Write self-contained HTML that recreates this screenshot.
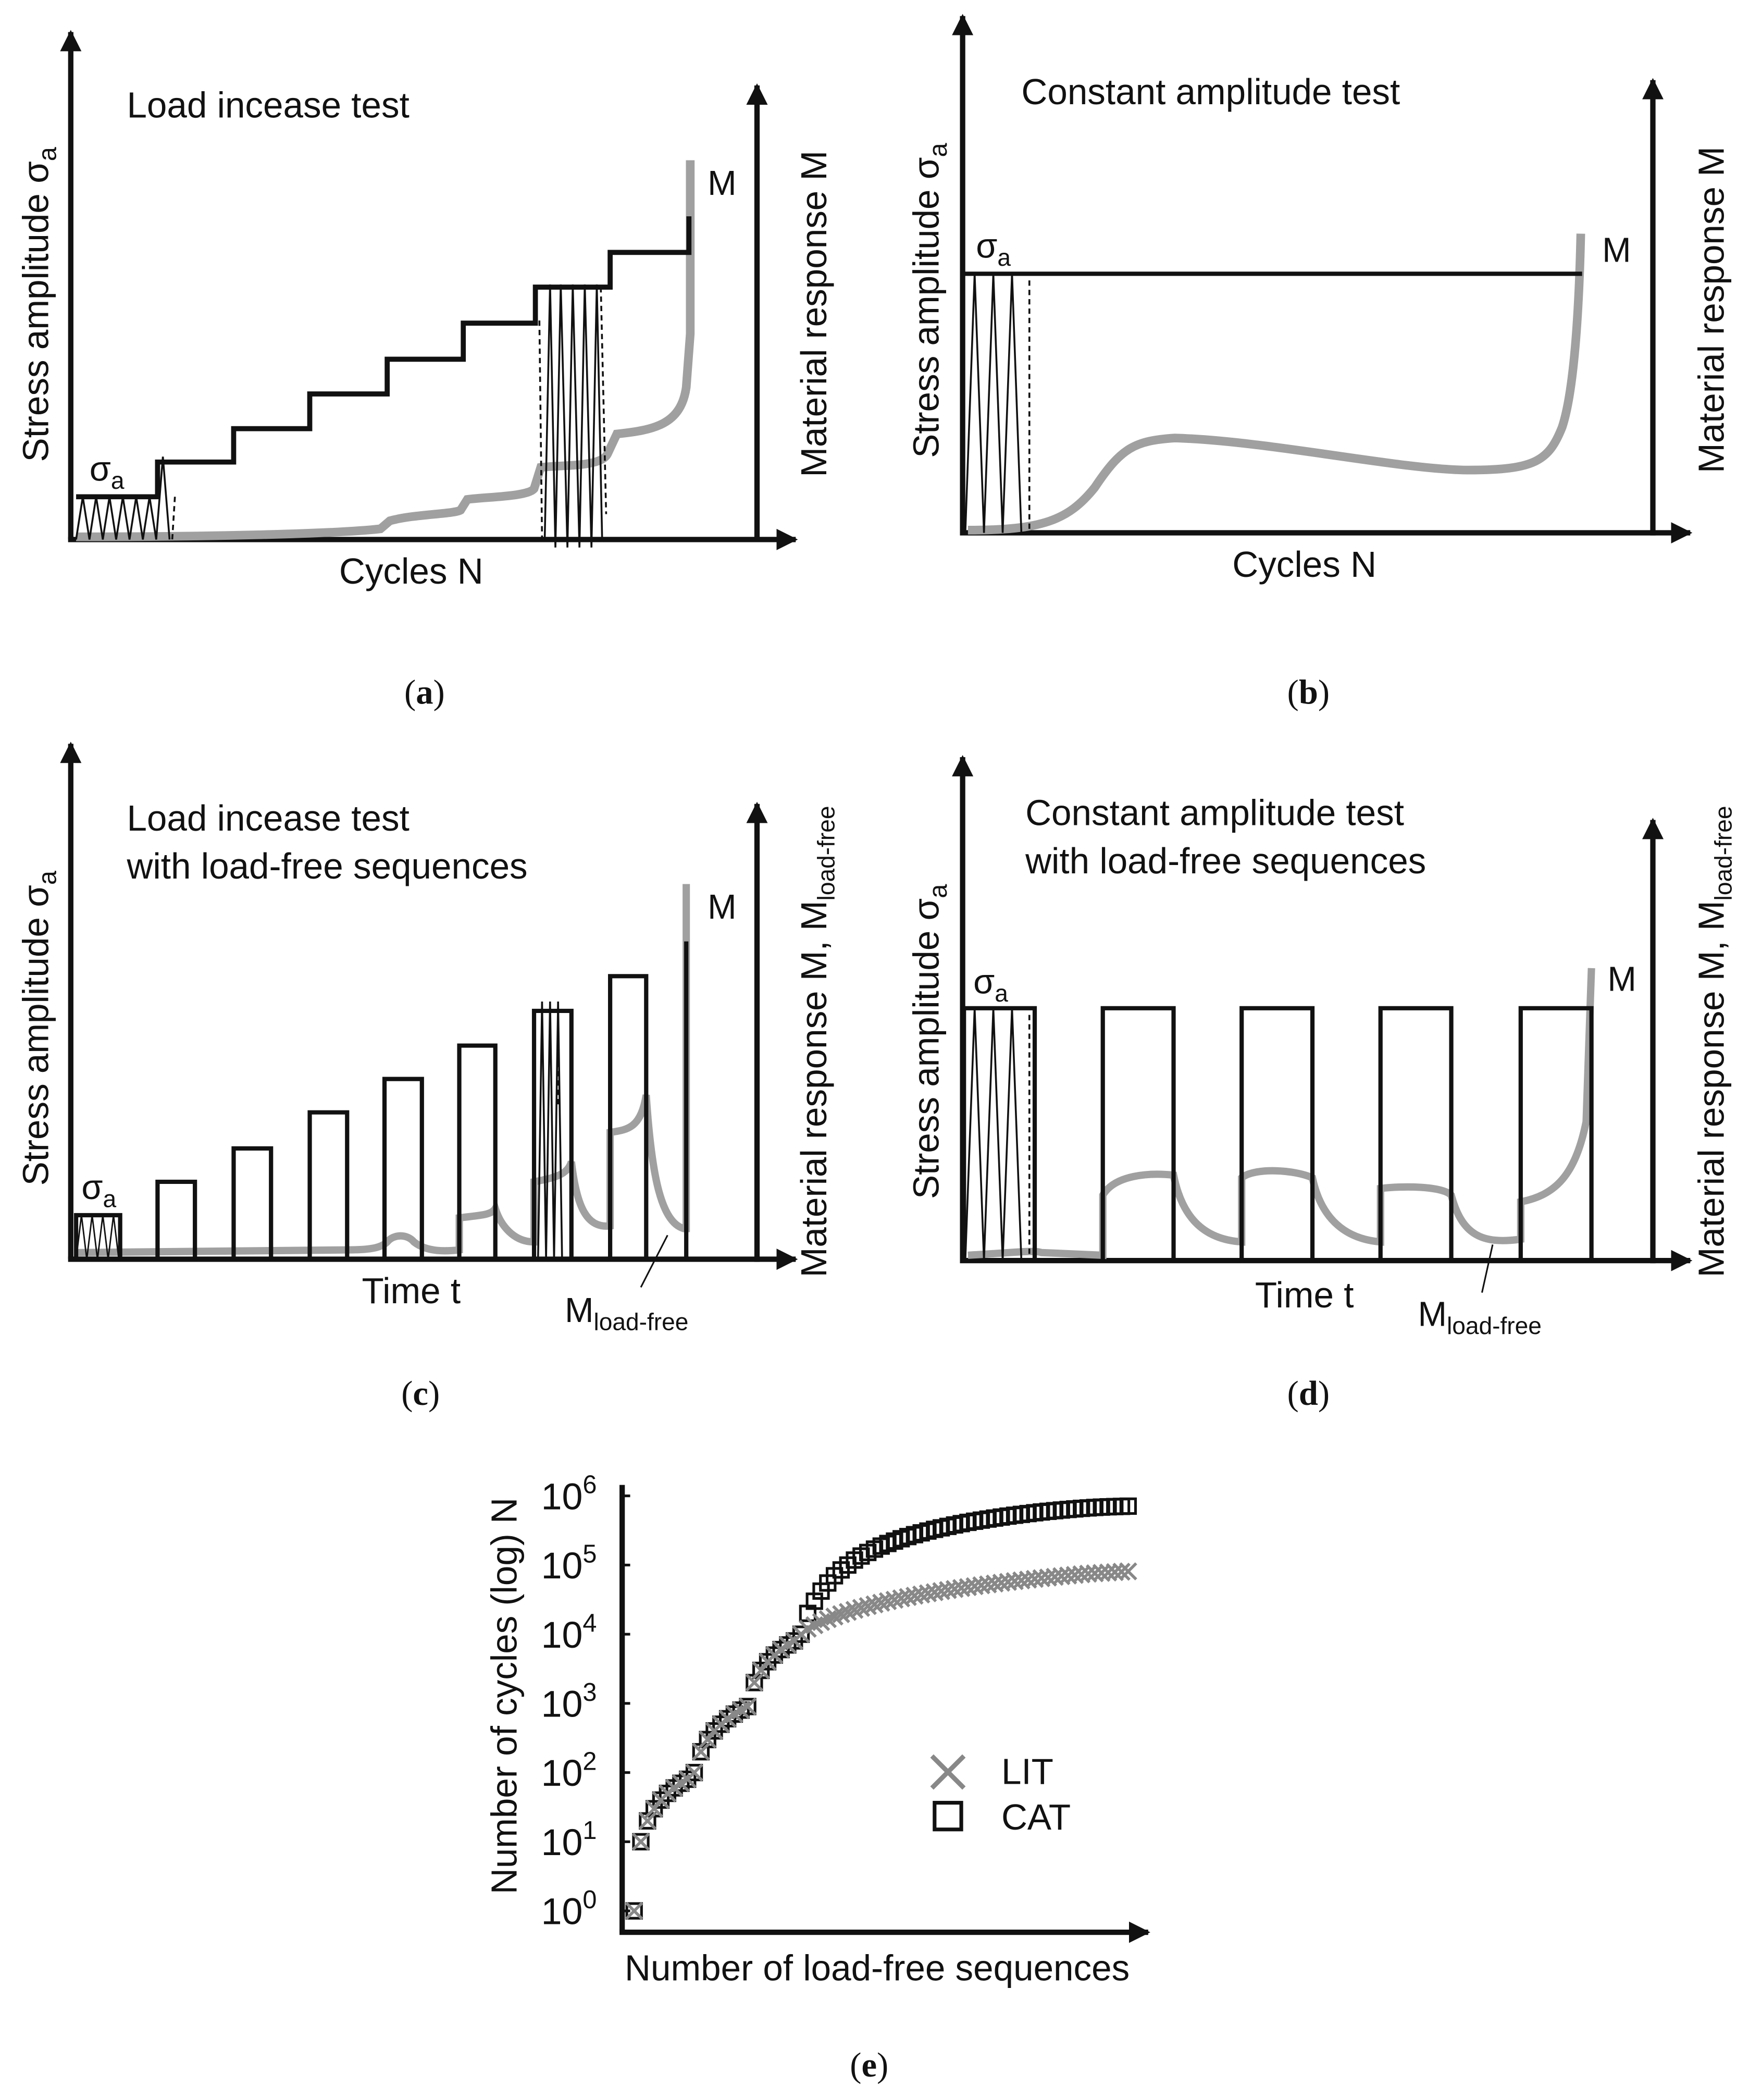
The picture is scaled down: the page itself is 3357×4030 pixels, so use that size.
<!DOCTYPE html>
<html><head><meta charset="utf-8"><style>
html,body{margin:0;padding:0;background:#fff}
svg{display:block}
text{font-family:"Liberation Sans",sans-serif;fill:#111}
.ser{font-family:"Liberation Serif",serif}
</style></head><body>
<svg id="fig" width="3357" height="4030" viewBox="0 0 1310 1572.6" xmlns="http://www.w3.org/2000/svg">
<defs>
<marker id="ar" viewBox="0 0 10 10" refX="9" refY="5" markerWidth="4" markerHeight="4" orient="auto" markerUnits="strokeWidth"><path d="M0,0L10,5L0,10z" fill="#111"/></marker>
</defs>

<!-- Panel A -->
<g>
<line x1="53" y1="404" x2="53" y2="24" stroke="#111" stroke-width="4" marker-end="url(#ar)"/>
<line x1="51" y1="404" x2="596" y2="404" stroke="#111" stroke-width="4" marker-end="url(#ar)"/>
<line x1="567" y1="406" x2="567" y2="64" stroke="#111" stroke-width="4" marker-end="url(#ar)"/>
<text x="95" y="88" font-size="27">Load incease test</text>
<text transform="translate(36,228) rotate(-90)" text-anchor="middle" font-size="27">Stress amplitude σ<tspan font-size="19" dy="6">a</tspan></text>
<text transform="translate(619,235) rotate(-90)" text-anchor="middle" font-size="27">Material response M</text>
<text x="308" y="437" text-anchor="middle" font-size="27">Cycles N</text>
<path d="M57,402 C150,402 250,400 285,396 L292,390 C310,385 340,385 345,382 L350,374 C365,372 395,372 400,366 L405,350 C420,348 450,350 455,340 L462,325 C490,322 510,318 514,290 L517,250 L517,120" fill="none" stroke="#a0a0a0" stroke-width="6.5"/>
<path d="M57,372 H118 V346 H175 V321 H232 V295 H290 V269 H347 V242 H401 V215 H457 V189 H516 V162" fill="none" stroke="#111" stroke-width="3.8"/>
<path d="M57,404 L62,372 L67,404 L72,372 L77,404 L82,372 L87,404 L92,372 L97,404 L102,372 L107,404 L112,372 L117,404 L122,342 L127,404" fill="none" stroke="#111" stroke-width="1.4"/>
<line x1="131" y1="372" x2="129" y2="404" stroke="#111" stroke-width="1.4" stroke-dasharray="4,3"/>
<path d="M408,404 L412,213 L416,410 L420,213 L425,410 L429,213 L434,410 L438,213 L443,410 L447,213 L451,404" fill="none" stroke="#111" stroke-width="1.4"/>
<line x1="404" y1="240" x2="406" y2="404" stroke="#111" stroke-width="1.4" stroke-dasharray="4,3"/>
<line x1="450" y1="215" x2="454" y2="385" stroke="#111" stroke-width="1.4" stroke-dasharray="4,3"/>
<text x="67" y="360" font-size="26">σ<tspan font-size="18" dy="6">a</tspan></text>
<text x="530" y="146" font-size="26">M</text>
<text x="318" y="527" text-anchor="middle" font-size="26" class="ser">(<tspan font-weight="bold">a</tspan>)</text>
</g>

<!-- Panel B -->
<g>
<line x1="721" y1="399" x2="721" y2="12" stroke="#111" stroke-width="4" marker-end="url(#ar)"/>
<line x1="719" y1="399" x2="1266" y2="399" stroke="#111" stroke-width="4" marker-end="url(#ar)"/>
<line x1="1238" y1="401" x2="1238" y2="60" stroke="#111" stroke-width="4" marker-end="url(#ar)"/>
<text x="765" y="78" font-size="27">Constant amplitude test</text>
<text transform="translate(703,225) rotate(-90)" text-anchor="middle" font-size="27">Stress amplitude σ<tspan font-size="19" dy="6">a</tspan></text>
<text transform="translate(1291,232) rotate(-90)" text-anchor="middle" font-size="27">Material response M</text>
<text x="977" y="432" text-anchor="middle" font-size="27">Cycles N</text>
<path d="M725,397 C780,397 800,390 820,365 C840,335 850,330 880,328 C950,330 1050,352 1100,352 C1150,352 1160,345 1170,320 C1180,290 1183,220 1184,175" fill="none" stroke="#a0a0a0" stroke-width="6.5"/>
<line x1="722" y1="205" x2="1185" y2="205" stroke="#111" stroke-width="3.2"/>
<path d="M723,399 L730,205 L737,399 L744,205 L751,399 L758,205 L765,399" fill="none" stroke="#111" stroke-width="1.4"/>
<line x1="771" y1="210" x2="771" y2="399" stroke="#111" stroke-width="1.4" stroke-dasharray="4,3"/>
<text x="731" y="193" font-size="26">σ<tspan font-size="18" dy="6">a</tspan></text>
<text x="1200" y="196" font-size="26">M</text>
<text x="980" y="527" text-anchor="middle" font-size="26" class="ser">(<tspan font-weight="bold">b</tspan>)</text>
</g>

<!-- Panel C -->
<g>
<line x1="53" y1="943" x2="53" y2="557" stroke="#111" stroke-width="4" marker-end="url(#ar)"/>
<line x1="51" y1="943" x2="596" y2="943" stroke="#111" stroke-width="4" marker-end="url(#ar)"/>
<line x1="567" y1="945" x2="567" y2="602" stroke="#111" stroke-width="4" marker-end="url(#ar)"/>
<text x="95" y="622" font-size="27">Load incease test</text>
<text x="95" y="658" font-size="27">with load-free sequences</text>
<text transform="translate(36,770) rotate(-90)" text-anchor="middle" font-size="27">Stress amplitude σ<tspan font-size="19" dy="6">a</tspan></text>
<text transform="translate(619,780) rotate(-90)" text-anchor="middle" font-size="27">Material response M, M<tspan font-size="18" dy="6">load-free</tspan></text>
<text x="308" y="976" text-anchor="middle" font-size="27">Time t</text>
<path d="M57,938 L260,936 C275,936 285,935 290,930 C295,924 305,924 310,930 C320,938 335,937 344,936 L344,912 C360,910 368,910 371,905 C375,918 385,930 400,930 L400,885 C415,882 425,880 428,870 C432,905 440,920 457,918 L457,848 C470,846 480,845 484,820 C488,880 495,915 512,920 L514,920 L514,662" fill="none" stroke="#a0a0a0" stroke-width="5.5"/>
<path d="M57,943 V910 H90 V943 M118,943 V885 H146 V943 M175,943 V860 H203 V943 M232,943 V833 H260 V943 M288,943 V808 H316 V943 M344,943 V783 H371 V943 M400,943 V757 H428 V943 M457,943 V731 H484 V943 M514,943 V705" fill="none" stroke="#111" stroke-width="3.2"/>
<path d="M57,943 L61,910 L65,943 L69,910 L73,943 L77,910 L81,943 L85,910 L89,943" fill="none" stroke="#111" stroke-width="1.1"/>
<path d="M403,943 L406,750 L409,943 L412,750 L415,943 L418,750 L421,943" fill="none" stroke="#111" stroke-width="1.4"/>
<line x1="418" y1="760" x2="418" y2="830" stroke="#111" stroke-width="1.4" stroke-dasharray="4,3"/>
<text x="61" y="898" font-size="26">σ<tspan font-size="18" dy="6">a</tspan></text>
<text x="530" y="688" font-size="26">M</text>
<line x1="480" y1="964" x2="500" y2="925" stroke="#111" stroke-width="1.2"/>
<text x="423" y="990" font-size="26">M<tspan font-size="18" dy="6">load-free</tspan></text>
<text x="315" y="1052" text-anchor="middle" font-size="26" class="ser">(<tspan font-weight="bold">c</tspan>)</text>
</g>

<!-- Panel D -->
<g>
<line x1="721" y1="944" x2="721" y2="567" stroke="#111" stroke-width="4" marker-end="url(#ar)"/>
<line x1="719" y1="944" x2="1266" y2="944" stroke="#111" stroke-width="4" marker-end="url(#ar)"/>
<line x1="1238" y1="946" x2="1238" y2="614" stroke="#111" stroke-width="4" marker-end="url(#ar)"/>
<text x="768" y="618" font-size="27">Constant amplitude test</text>
<text x="768" y="654" font-size="27">with load-free sequences</text>
<text transform="translate(703,780) rotate(-90)" text-anchor="middle" font-size="27">Stress amplitude σ<tspan font-size="19" dy="6">a</tspan></text>
<text transform="translate(1291,780) rotate(-90)" text-anchor="middle" font-size="27">Material response M, M<tspan font-size="18" dy="6">load-free</tspan></text>
<text x="977" y="979" text-anchor="middle" font-size="27">Time t</text>
<path d="M725,940 C760,938 775,936 780,938 L826,940 L826,895 C835,880 860,878 879,880 C885,910 900,928 930,930 L930,882 C940,874 970,876 983,882 C990,915 1010,928 1034,930 L1034,890 C1050,888 1080,888 1087,895 C1095,925 1110,932 1139,928 L1139,900 C1165,895 1180,880 1188,840 L1192,725" fill="none" stroke="#a0a0a0" stroke-width="5.5"/>
<path d="M722,944 V755 H775 V944 M826,944 V755 H879 V944 M930,944 V755 H983 V944 M1034,944 V755 H1087 V944 M1139,944 V755 H1192 V944" fill="none" stroke="#111" stroke-width="3.2"/>
<path d="M723,944 L730,755 L737,944 L744,755 L751,944 L758,755 L765,944" fill="none" stroke="#111" stroke-width="1.4"/>
<line x1="771" y1="760" x2="771" y2="944" stroke="#111" stroke-width="1.4" stroke-dasharray="4,3"/>
<text x="729" y="744" font-size="26">σ<tspan font-size="18" dy="6">a</tspan></text>
<text x="1204" y="742" font-size="26">M</text>
<line x1="1110" y1="968" x2="1118" y2="932" stroke="#111" stroke-width="1.2"/>
<text x="1062" y="993" font-size="26">M<tspan font-size="18" dy="6">load-free</tspan></text>
<text x="980" y="1052" text-anchor="middle" font-size="26" class="ser">(<tspan font-weight="bold">d</tspan>)</text>
</g>

<!-- Panel E -->
<g id="pe">
<line x1="466" y1="1447" x2="466" y2="1112" stroke="#111" stroke-width="4"/>
<line x1="464" y1="1447" x2="860" y2="1447" stroke="#111" stroke-width="4" marker-end="url(#ar)"/>
<g id="yticks"></g>
<text transform="translate(387,1270) rotate(-90)" text-anchor="middle" font-size="27">Number of cycles (log) N</text>
<text x="657" y="1483" text-anchor="middle" font-size="27">Number of load-free sequences</text>
<g id="marks"></g>
<g>
<path d="M698,1315 L722,1339 M722,1315 L698,1339" stroke="#888" stroke-width="3.5"/>
<text x="750" y="1336" font-size="27">LIT</text>
<rect x="700" y="1350" width="20" height="20" fill="none" stroke="#111" stroke-width="2.8"/>
<text x="750" y="1370" font-size="27">CAT</text>
</g>
<text x="651" y="1555" text-anchor="middle" font-size="26" class="ser">(<tspan font-weight="bold">e</tspan>)</text>
</g>
</svg>
<script>
const tickExps = [0,1,2,3,4,5,6];
const litValues = [1,10,20,30,40,50,60,70,80,100,200,300,400,500,600,700,800,900,2000,3000,4000,5000,6000,7000,8000,10000,12000,13500,15000,16500,18000,19500,21000,22500,24000,25500,27000,28500,30000,31500,33000,34500,36000,37500,39000,40500,42000,43500,45000,46500,48000,49500,51000,52500,54000,55500,57000,58500,60000,61500,63000,64500,66000,67500,69000,70500,72000,73500,75000,76000,77000,78000,79000,80000,81000];
const catValues = [1,10,20,30,40,50,60,70,80,100,200,300,400,500,600,700,800,900,2000,3000,4000,5000,6000,7000,8000,10000,20000,30000,42000,55000,70000,85000,100000,118000,135000,152000,170000,188000,205000,222000,240000,258000,275000,292000,310000,328000,345000,362000,380000,397000,414000,430000,446000,462000,478000,494000,510000,525000,540000,555000,570000,585000,598000,611000,624000,636000,648000,660000,670000,680000,688000,695000,700000,705000,710000];
const NS='http://www.w3.org/2000/svg';
const X0=475,X1=845,Y0=1431,DEC=51.8;
function xs(i){return X0+(X1-X0)*i/(catValues.length-1);}
function ys(v){return Y0-Math.log10(v)*DEC;}
const yt=document.getElementById('yticks');
tickExps.forEach(e=>{
  const y=ys(Math.pow(10,e));
  const t=document.createElementNS(NS,'text');
  
  
  t.setAttribute('x',447);t.setAttribute('y',y+10);t.setAttribute('text-anchor','end');t.setAttribute('font-size','28');
  t.innerHTML='10<tspan font-size="19" dy="-12">'+e+'</tspan>';
  yt.appendChild(t);
  const l=document.createElementNS(NS,'line');
  
  
  l.setAttribute('x1',466);l.setAttribute('x2',472);l.setAttribute('y1',y);l.setAttribute('y2',y);l.setAttribute('stroke','#111');l.setAttribute('stroke-width','2');
  yt.appendChild(l);
});
const mk=document.getElementById('marks');
catValues.forEach((v,i)=>{
  const r=document.createElementNS(NS,'rect');
  
  
  const x=xs(i),y=ys(v);
  r.setAttribute('x',x-5.5);r.setAttribute('y',y-5.5);r.setAttribute('width',11);r.setAttribute('height',11);
  r.setAttribute('fill','none');r.setAttribute('stroke','#111');r.setAttribute('stroke-width','2');
  mk.appendChild(r);
});
litValues.forEach((v,i)=>{
  const p=document.createElementNS(NS,'path');
  
  
  const x=xs(i),y=ys(v);
  p.setAttribute('d',`M${x-6},${y-6}L${x+6},${y+6}M${x+6},${y-6}L${x-6},${y+6}`);
  p.setAttribute('stroke','#888');p.setAttribute('stroke-width','2.2');
  mk.appendChild(p);
});
</script>
</body></html>
